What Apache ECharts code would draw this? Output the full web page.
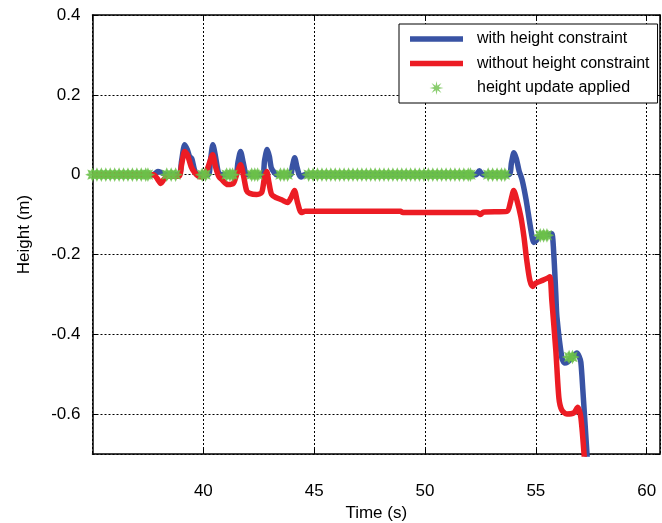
<!DOCTYPE html>
<html>
<head>
    <meta charset="UTF-8">
    <title>Height vs time</title>
    <script src="https://cdn.jsdelivr.net/npm/echarts@6/dist/echarts.min.js"></script>
    <style>
        html, body { margin: 0; padding: 0; background: #fff; }
        #chart { width: 662px; height: 523px; }
    </style>
</head>
<body>
<div id="chart"></div>
<script>
    // 数据：时间 (s) / 高度 (m)
    var seriesNames = ['with height constraint', 'without height constraint', 'height update applied'];

    var withConstraint = [
        [35.0, 0], [37.75, 0], [37.95, 0.008], [38.15, 0.004], [38.35, 0], [38.9, 0],
        [39.02, 0.035], [39.16, 0.075], [39.28, 0.062], [39.38, 0.045], [39.48, 0.04], [39.6, 0.012], [39.72, 0],
        [40.22, 0], [40.32, 0.035], [40.43, 0.075], [40.55, 0.045], [40.66, 0.01], [40.78, 0],
        [41.45, 0], [41.56, 0.03], [41.68, 0.058], [41.8, 0.03], [41.9, 0.005], [42.0, 0],
        [42.66, 0], [42.76, 0.035], [42.88, 0.063], [42.98, 0.045], [43.06, 0.018], [43.2, 0.005], [43.3, 0],
        [43.92, 0], [44.02, 0.022], [44.12, 0.042], [44.22, 0.02], [44.32, 0], [44.42, -0.006], [44.56, 0],
        [52.3, 0], [52.45, 0.01], [52.6, 0],
        [53.78, 0], [53.9, 0.03], [54.01, 0.055], [54.12, 0.04], [54.24, 0.01], [54.38, -0.013],
        [54.56, -0.063], [54.78, -0.14], [54.91, -0.17], [55.02, -0.165], [55.14, -0.155],
        [55.6, -0.15], [55.72, -0.148], [55.81, -0.2], [55.9, -0.3], [55.95, -0.357], [56.17, -0.458],
        [56.3, -0.472], [56.42, -0.47], [56.6, -0.46], [56.85, -0.447], [56.95, -0.455],
        [57.03, -0.47], [57.12, -0.54], [57.33, -0.72]
    ];

    var withoutConstraint = [
        [35.0, 0], [37.75, 0], [37.92, -0.01], [38.08, -0.022], [38.22, -0.012], [38.4, -0.004], [38.9, -0.004],
        [39.02, 0.025], [39.16, 0.058], [39.28, 0.05], [39.45, 0.02], [39.61, 0.005], [39.84, -0.005],
        [40.05, -0.002], [40.22, 0.02], [40.42, 0.05], [40.55, 0.02], [40.7, -0.005], [40.83, -0.012],
        [41.1, -0.025], [41.35, -0.022], [41.5, 0.0], [41.68, 0.025], [41.82, -0.005], [41.95, -0.04],
        [42.09, -0.047], [42.4, -0.05], [42.63, -0.045], [42.75, -0.01], [42.86, 0.008], [42.96, -0.02],
        [43.08, -0.05], [43.3, -0.058], [43.53, -0.063], [43.8, -0.07], [43.98, -0.055], [44.11, -0.04],
        [44.25, -0.07], [44.42, -0.095], [44.6, -0.092], [48.9, -0.092], [49.0, -0.095],
        [52.35, -0.095], [52.5, -0.1], [52.62, -0.094], [53.7, -0.092], [53.85, -0.07], [54.0, -0.04],
        [54.14, -0.063], [54.32, -0.105], [54.46, -0.155], [54.59, -0.215], [54.73, -0.265], [54.86, -0.28],
        [55.0, -0.272], [55.3, -0.265], [55.5, -0.26], [55.63, -0.256], [55.72, -0.315], [55.9, -0.44],
        [56.04, -0.56], [56.17, -0.59], [56.4, -0.6], [56.71, -0.597], [56.89, -0.583], [57.03, -0.608],
        [57.2, -0.72]
    ];

    // 高度更新时刻（高度为 0 的部分）
    var updateTimesAtZero = [
        35.0, 35.2, 35.4, 35.6, 35.8, 36.0, 36.2, 36.4, 36.6, 36.8, 37.0, 37.2, 37.4, 37.5,
        38.35, 38.55, 38.75,
        39.95, 40.1,
        41.05, 41.2, 41.32,
        42.18, 42.32, 42.45,
        43.48, 43.64, 43.8,
        44.75, 44.95, 45.15, 45.35, 45.55, 45.75, 45.95, 46.15, 46.35, 46.55, 46.75, 46.95,
        47.15, 47.35, 47.55, 47.75, 47.95, 48.15, 48.35, 48.55, 48.75, 48.95, 49.15, 49.35,
        49.55, 49.75, 49.95, 50.15, 50.35, 50.55, 50.75, 50.95, 51.15, 51.35, 51.55, 51.75,
        51.95, 52.05,
        52.85, 53.05, 53.25, 53.45, 53.6
    ];
    // 高度更新（台阶处）
    var updateStepPoints = [
        [55.2, -0.152], [55.35, -0.152], [55.5, -0.152],
        [56.5, -0.457], [56.65, -0.457]
    ];

    var xTicks = [40, 45, 50, 55, 60];

    var blue = '#3953a4', red = '#ec1c24', green = '#6cc04a';
    var font = "'Liberation Sans', Arial, Helvetica, sans-serif";
    // 星号标记（粗一点，连在一起像原图的绿色带）
    var asterisk = 'path://M5,0 L2.6,1.08 L3.54,3.54 L1.08,2.6 L0,5 L-1.08,2.6 L-3.54,3.54 L-2.6,1.08 L-5,0 L-2.6,-1.08 L-3.54,-3.54 L-1.08,-2.6 L0,-5 L1.08,-2.6 L3.54,-3.54 L2.6,-1.08 Z';
    // 图例图标
    var legendLine = 'path://M0,0 L0.01,0 L0.01,0.01 Z M0,2.25 L53,2.25 L53,7.75 L0,7.75 Z M0,10 L0.01,10 L0.01,9.99 Z';
    var legendStar = 'path://M5,0 L1.6,0.66 L3.54,3.54 L0.66,1.6 L0,5 L-0.66,1.6 L-3.54,3.54 L-1.6,0.66 L-5,0 L-1.6,-0.66 L-3.54,-3.54 L-0.66,-1.6 L0,-5 L0.66,-1.6 L3.54,-3.54 L1.6,-0.66 Z';

    var updateData = updateTimesAtZero.map(function (t) { return [t, 0]; }).concat(updateStepPoints);

    var myChart = echarts.init(document.getElementById('chart'), null, {renderer: 'canvas'});

    var mirrorX = {
        type: 'value', position: 'top', min: 35, max: 60.6, interval: 5,
        axisLine: {show: true, onZero: false, lineStyle: {color: '#000', width: 1.5}},
        axisTick: {show: true, inside: true, length: 5, lineStyle: {color: '#000'}},
        axisLabel: {show: false}, splitLine: {show: false}
    };
    var mirrorY = {
        type: 'value', position: 'right', min: -0.7, max: 0.4, splitNumber: 6,
        axisLine: {show: true, onZero: false, lineStyle: {color: '#000', width: 1.5}},
        axisTick: {show: true, inside: true, length: 5, lineStyle: {color: '#000'}},
        axisLabel: {show: false}, splitLine: {show: false}
    };

    var option = {
        animation: false,
        backgroundColor: '#fff',
        textStyle: {fontFamily: font},
        grid: {left: 92.5, right: 2, top: 15, bottom: 69, outerBoundsMode: 'none'},
        legend: {
            orient: 'vertical',
            left: 399, top: 24,
            padding: [7, 8, 7, 11],
            itemGap: 8.5,
            itemWidth: 53, itemHeight: 14,
            symbolKeepAspect: true,
            backgroundColor: '#fff',
            borderColor: '#000', borderWidth: 1,
            itemStyle: {borderWidth: 0},
            textStyle: {fontSize: 16, lineHeight: 16, color: '#000', fontFamily: font, padding: [0, 0, 0, 9]},
            data: [
                {name: seriesNames[0], icon: legendLine},
                {name: seriesNames[1], icon: legendLine},
                {name: seriesNames[2], icon: legendStar}
            ]
        },
        xAxis: [{
            type: 'value', min: 35, max: 60.6, interval: 5,
            name: 'Time (s)', nameLocation: 'middle', nameGap: 50,
            nameTextStyle: {fontSize: 17, color: '#000', fontFamily: font},
            axisLine: {show: true, onZero: false, lineStyle: {color: '#000', width: 1.5}},
            axisTick: {show: true, inside: true, length: 5, lineStyle: {color: '#000'}},
            axisLabel: {
                fontSize: 17, color: '#000', margin: 29, fontFamily: font,
                showMinLabel: false, showMaxLabel: false,
                formatter: function (v) { return xTicks.indexOf(v) >= 0 ? String(v) : ''; }
            },
            splitLine: {show: true, lineStyle: {color: '#000', type: [2, 2], width: 1}}
        }, mirrorX],
        yAxis: [{
            type: 'value', min: -0.7, max: 0.4, splitNumber: 6,
            name: 'Height (m)', nameLocation: 'middle', nameGap: 60,
            nameTextStyle: {fontSize: 17, color: '#000', fontFamily: font},
            axisLine: {show: true, onZero: false, lineStyle: {color: '#000', width: 1.5}},
            axisTick: {show: true, inside: true, length: 5, lineStyle: {color: '#000'}},
            axisLabel: {
                fontSize: 17, color: '#000', margin: 12, fontFamily: font,
                showMinLabel: false,
                formatter: function (v) { return v === 0 ? '0' : (Math.round(v * 10) / 10).toString(); }
            },
            splitLine: {show: true, lineStyle: {color: '#000', type: [2, 2], width: 1}}
        }, mirrorY],
        series: [
            {
                name: seriesNames[0], type: 'line', data: withConstraint,
                symbol: 'none', smooth: 0.25, color: blue,
                lineStyle: {color: blue, width: 5.5}, z: 2
            },
            {
                name: seriesNames[1], type: 'line', data: withoutConstraint,
                symbol: 'none', smooth: 0.25, color: red,
                lineStyle: {color: red, width: 5.5}, z: 3
            },
            {
                name: seriesNames[2], type: 'scatter', data: updateData,
                symbol: asterisk, symbolSize: 11, color: green,
                itemStyle: {color: green, borderColor: green, borderWidth: 1.5}, z: 4
            }
        ]
    };
    myChart.setOption(option);
</script>
</body>
</html>
